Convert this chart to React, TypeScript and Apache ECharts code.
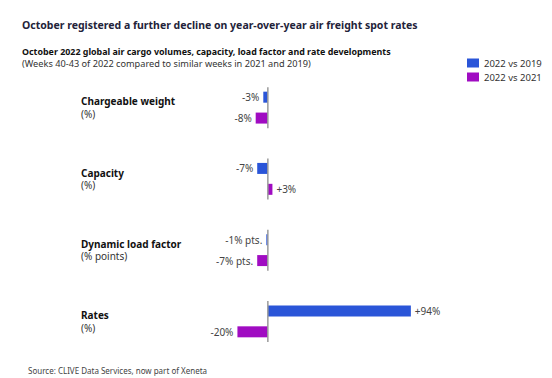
import React, { useEffect, useRef } from "react";
import * as echarts from "echarts";

const categories = ["Chargeable weight", "Capacity", "Dynamic load factor", "Rates"];
const units = ["(%)", "(%)", "(% points)", "(%)"];
const series2019 = [-3, -7, -1, 94];
const series2021 = [-8, 3, -7, -20];
const labels2019 = ["-3%", "-7%", "-1% pts.", "+94%"];
const labels2021 = ["-8%", "+3%", "-7% pts.", "-20%"];
const legendNames = ["2022 vs 2019", "2022 vs 2021"];

const FONT = "'Noto Sans', sans-serif";
const BLUE = "#2a55d8";
const PURPLE = "#a00cc2";

export default function App() {
  const ref = useRef<HTMLDivElement>(null);
  useEffect(() => {
    if (!ref.current) return;
    const chart = echarts.init(ref.current, null, { renderer: "svg" });
    const mkData = (vals: number[], labs: string[]) =>
      vals.map((v, i) => ({
        value: v,
        label: {
          show: true,
          position: v < 0 ? "left" : "right",
          distance: 4,
          formatter: labs[i],
          color: "#444",
          fontSize: 10,
          fontFamily: FONT,
        },
      }));
    chart.setOption({
      animation: false,
      textStyle: { fontFamily: FONT },
      title: [
        {
          text: "October registered a further decline on year-over-year air freight spot rates",
          left: 22,
          top: 18,
          padding: 0,
          textStyle: { fontSize: 10.5, fontWeight: "bold", color: "#23233a", fontFamily: FONT, lineHeight: 14 },
        },
        {
          text: "October 2022 global air cargo volumes, capacity, load factor and rate developments",
          left: 22,
          top: 46,
          padding: 0,
          textStyle: { fontSize: 8.9, fontWeight: "bold", color: "#111", fontFamily: FONT, lineHeight: 11 },
        },
        {
          text: "(Weeks 40-43 of 2022 compared to similar weeks in 2021 and 2019)",
          left: 22,
          top: 58,
          padding: 0,
          textStyle: { fontSize: 9.2, fontWeight: "normal", color: "#333", fontFamily: FONT, lineHeight: 11 },
        },
        {
          text: "Source: CLIVE Data Services, now part of Xeneta",
          left: 28,
          top: 364.5,
          padding: 0,
          textStyle: { fontSize: 8, fontWeight: "normal", color: "#444", fontFamily: FONT, lineHeight: 11 },
        },
      ],
      legend: {
        orient: "vertical",
        left: 467,
        top: 57,
        padding: 0,
        itemWidth: 12,
        itemHeight: 9,
        itemGap: 2,
        icon: "rect",
        data: legendNames,
        textStyle: { fontSize: 9.5, color: "#333", fontFamily: FONT, lineHeight: 12 },
      },
      grid: { left: 207, right: 132, top: 72, bottom: 21 },
      xAxis: {
        type: "value",
        min: -40,
        max: 100,
        show: false,
      },
      yAxis: {
        type: "category",
        data: categories,
        inverse: true,
        axisLine: { show: false },
        axisTick: { show: false },
        splitLine: { show: false },
        axisLabel: {
          align: "left",
          margin: 126,
          formatter: (v: string) => {
            const i = categories.indexOf(v);
            return `{b|${v}}\n{u|${units[i]}}`;
          },
          rich: {
            b: { fontSize: 10, fontWeight: "bold", color: "#111", fontFamily: FONT, lineHeight: 12.5 },
            u: { fontSize: 10, fontWeight: "normal", color: "#333", fontFamily: FONT, lineHeight: 12.5 },
          },
        },
      },
      series: [
        {
          name: legendNames[0],
          type: "bar",
          data: mkData(series2019, labels2019),
          barWidth: 11,
          barGap: "90%",
          itemStyle: { color: BLUE },
        },
        {
          name: legendNames[1],
          type: "bar",
          data: mkData(series2021, labels2021),
          barWidth: 11,
          itemStyle: { color: PURPLE },
        },
        {
          type: "custom",
          data: categories.map((_, i) => [0, i]),
          encode: { x: 0, y: 1 },
          z: 5,
          silent: true,
          renderItem: (params: any, api: any) => {
            const p = api.coord([0, api.value(1)]);
            return {
              type: "line",
              shape: { x1: p[0], y1: p[1] - 20.5, x2: p[0], y2: p[1] + 20.5 },
              style: { stroke: "#9a9a9a", lineWidth: 1.5 },
            };
          },
        },
      ],
    });
    return () => chart.dispose();
  }, []);
  return <div ref={ref} style={{ width: 552, height: 378, position: "absolute", left: 0, top: 0 }} />;
}
